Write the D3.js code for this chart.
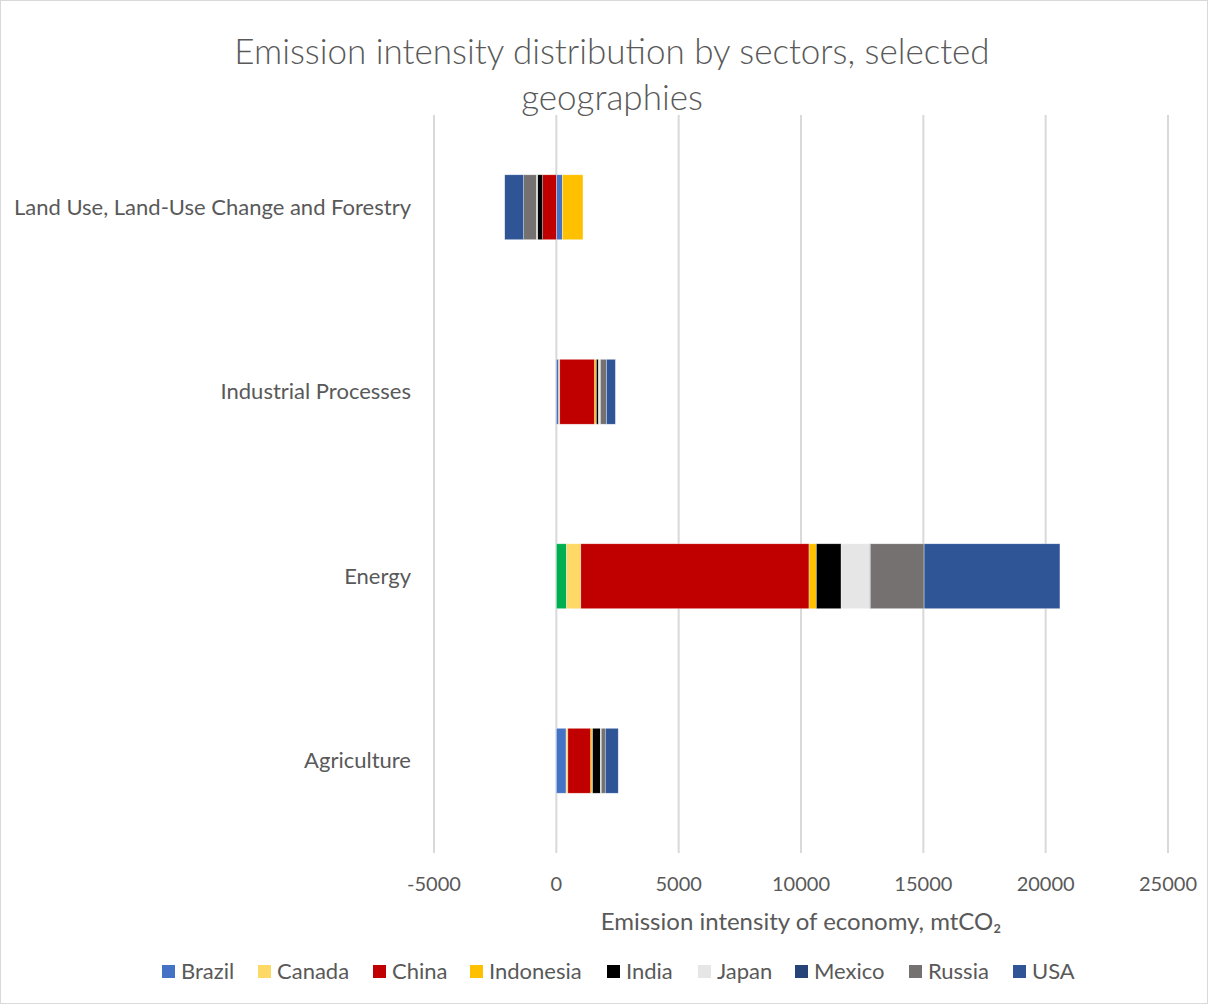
<!DOCTYPE html>
<html>
<head>
<meta charset="utf-8">
<script src="https://cdn.jsdelivr.net/npm/d3@7"></script>
<style>
  body { margin: 0; background: #fff; }
  svg { display: block; font-family: Lato, "Open Sans", sans-serif; }
</style>
</head>
<body>
<div id="chart"></div>
<script>
// ---- data ----
var sectors = ["Land Use, Land-Use Change and Forestry", "Industrial Processes", "Energy", "Agriculture"];
var countries = ["Brazil", "Canada", "China", "Indonesia", "India", "Japan", "Mexico", "Russia", "USA"];
var colors = ["#4472c4", "#ffd966", "#c00000", "#ffc000", "#000000", "#e7e6e6", "#264478", "#767171", "#2f5597"];

// values per sector, in country order
var landUse    = [245, 0, -560, 845, -215, -40, 0, -520, -775];
var industrial = [100, 40, 1430, 65, 95, 70, 0, 245, 370];
var energy     = [420, 580, 9330, 296, 1015, 1170, 20, 2200, 5553];
var agri       = [400, 70, 940, 70, 325, 30, 0, 165, 530];

var xTicks = [-5000, 0, 5000, 10000, 15000, 20000, 25000];

var sectorValues = [landUse, industrial, energy, agri];
var rows = sectors.map(function (s, i) {
    var r = { sector: s };
    countries.forEach(function (c, j) { r[c] = sectorValues[i][j]; });
    return r;
});

// ---- layout ----
var width = 1208, height = 1004;
var plot = { left: 434, right: 1168, top: 115, bottom: 853 };

var svg = d3.select("#chart").append("svg")
    .attr("width", width)
    .attr("height", height);

svg.append("rect")
    .attr("x", 0.5).attr("y", 0.5)
    .attr("width", width - 1).attr("height", height - 1)
    .attr("fill", "#fff")
    .attr("stroke", "#d9d9d9");

var x = d3.scaleLinear().domain([-5000, 25000]).range([plot.left, plot.right]);
var y = d3.scaleBand().domain(sectors)
    .range([plot.top, plot.bottom])
    .paddingInner(0.648)
    .paddingOuter(0.324);

// gridlines
svg.append("g").selectAll("line")
    .data(xTicks)
    .join("line")
    .attr("x1", d => x(d)).attr("x2", d => x(d))
    .attr("y1", plot.top).attr("y2", plot.bottom)
    .attr("stroke", "#d9d9d9")
    .attr("stroke-width", 2);

// stacked bars
var stack = d3.stack().keys(countries).offset(d3.stackOffsetDiverging);
var series = stack(rows);

svg.append("g").selectAll("g")
    .data(series)
    .join("g")
    .each(function (s, si) {
        d3.select(this).selectAll("rect")
            .data(s)
            .join("rect")
            .attr("x", d => x(Math.min(d[0], d[1])))
            .attr("width", d => Math.abs(x(d[1]) - x(d[0])))
            .attr("y", d => y(d.data.sector))
            .attr("height", y.bandwidth())
            // Brazil's energy point is coloured green in the source
            .attr("fill", d => (s.key === "Brazil" && d.data.sector === "Energy") ? "#00b050" : colors[si])
            .attr("stroke", "#fff")
            .attr("stroke-opacity", 0.6)
            .attr("stroke-width", 0.6);
    });

// category labels
svg.append("g").selectAll("text")
    .data(sectors)
    .join("text")
    .attr("x", 411)
    .attr("y", d => y(d) + y.bandwidth() / 2)
    .attr("dy", "0.35em")
    .attr("text-anchor", "end")
    .attr("fill", "#595959")
    .style("font-size", "22px")
    .text(d => d);

// tick labels
svg.append("g").selectAll("text")
    .data(xTicks)
    .join("text")
    .attr("x", d => x(d))
    .attr("y", 891)
    .attr("text-anchor", "middle")
    .attr("fill", "#595959")
    .style("font-size", "20px")
    .text(d => d);

// axis title
svg.append("text")
    .attr("x", (plot.left + plot.right) / 2)
    .attr("y", 930)
    .attr("text-anchor", "middle")
    .attr("fill", "#595959")
    .style("font-size", "24px")
    .text("Emission intensity of economy, mtCO\u2082");

// title
var title = svg.append("text")
    .attr("text-anchor", "middle")
    .attr("fill", "#595959")
    .style("font-size", "35px")
    .style("font-weight", "300");
title.append("tspan").attr("x", 612).attr("y", 64)
    .text("Emission intensity distribution by sectors, selected");
title.append("tspan").attr("x", 612).attr("y", 110)
    .text("geographies");

// legend
var legendX = [162, 258, 373, 470, 607, 698, 795, 909, 1013];
var legend = svg.append("g").selectAll("g")
    .data(countries)
    .join("g")
    .attr("transform", (d, i) => "translate(" + legendX[i] + ",965)");
legend.append("rect")
    .attr("width", 13).attr("height", 13)
    .attr("fill", (d, i) => colors[i]);
legend.append("text")
    .attr("x", 19).attr("y", 6.5)
    .attr("dy", "0.35em")
    .attr("fill", "#595959")
    .style("font-size", "22px")
    .text(d => d);
</script>
</body>
</html>
